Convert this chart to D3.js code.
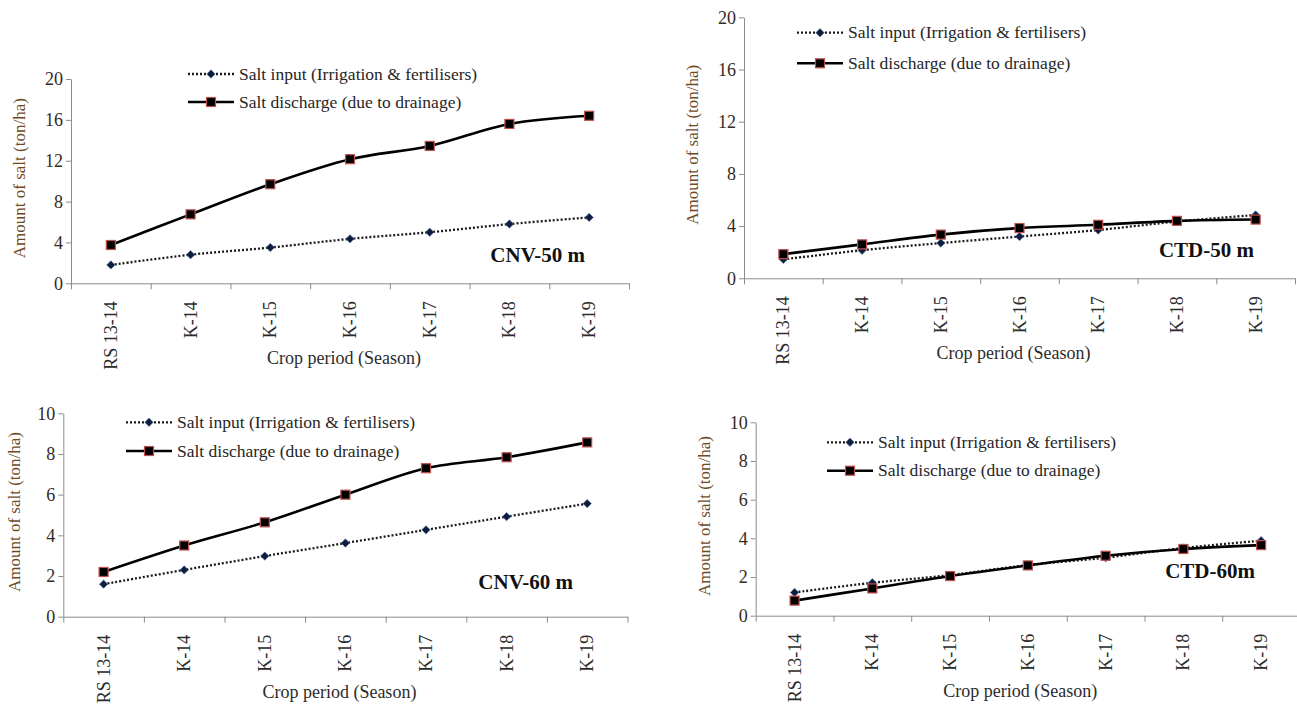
<!DOCTYPE html>
<html>
<head>
<meta charset="utf-8">
<script src="https://cdn.jsdelivr.net/npm/d3@7"></script>
<style>
  body { margin: 0; background: #fff; }
</style>
</head>
<body>
<script>
let width = 1297;
let height = 709;

// data
let categories = ["RS 13-14", "K-14", "K-15", "K-16", "K-17", "K-18", "K-19"];
let seriesNames = ["Salt input (Irrigation & fertilisers)", "Salt discharge (due to drainage)"];

let cnv50Input = [1.8, 2.8, 3.5, 4.35, 5.0, 5.8, 6.45];
let cnv50Discharge = [3.75, 6.75, 9.7, 12.15, 13.45, 15.6, 16.4];

let ctd50Input = [1.45, 2.15, 2.7, 3.2, 3.7, 4.35, 4.85];
let ctd50Discharge = [1.85, 2.6, 3.35, 3.85, 4.1, 4.4, 4.5];

let cnv60Input = [1.6, 2.3, 2.98, 3.62, 4.27, 4.92, 5.56];
let cnv60Discharge = [2.2, 3.5, 4.64, 6.0, 7.3, 7.84, 8.57];

let ctd60Input = [1.2, 1.7, 2.1, 2.62, 3.0, 3.5, 3.88];
let ctd60Discharge = [0.78, 1.41, 2.05, 2.6, 3.1, 3.45, 3.65];

let yTitle = "Amount of salt (ton/ha)";
let xTitle = "Crop period (Season)";

let serif = "'Liberation Serif', 'Times New Roman', 'DejaVu Serif', serif";
let tickColor = "#33291f";
let yTitleColor = "#6e4a1e";
let axisColor = "#8c8c8c";
let squareStroke = "#c0504d";
let diamondFill = "#0f1d3d";
let fontSize = 18;

let svg = d3
  .select("body")
  .append("svg")
  .attr("width", width)
  .attr("height", height)
  .style("font-family", serif);

let panels = [
  { input: cnv50Input, discharge: cnv50Discharge, label: "CNV-50 m", yMax: 20, step: 4,
    left: 71, right: 629, top: 79, bottom: 283.3, legendX: 188, legendY: [74, 102], labelX: 585, labelY: 262 },
  { input: ctd50Input, discharge: ctd50Discharge, label: "CTD-50 m", yMax: 20, step: 4,
    left: 744, right: 1295, top: 17.3, bottom: 278.3, legendX: 797, legendY: [32.7, 63.3], labelX: 1254, labelY: 257 },
  { input: cnv60Input, discharge: cnv60Discharge, label: "CNV-60 m", yMax: 10, step: 2,
    left: 63.3, right: 627.5, top: 413.3, bottom: 616.7, legendX: 126, legendY: [422.3, 451], labelX: 573, labelY: 589 },
  { input: ctd60Input, discharge: ctd60Discharge, label: "CTD-60m", yMax: 10, step: 2,
    left: 755.7, right: 1300, top: 422.3, bottom: 615.7, legendX: 827, legendY: [442.3, 470.7], labelX: 1255, labelY: 578 }
];

function setFont(sel, size) {
  return sel
    .attr("font-family", serif)
    .style("font-family", serif)
    .style("font-size", size + "px");
}

function drawSquare(g, x, y) {
  g.append("rect")
    .attr("x", x - 4.5)
    .attr("y", y - 4.5)
    .attr("width", 9)
    .attr("height", 9)
    .attr("fill", "#000")
    .attr("stroke", squareStroke)
    .attr("stroke-width", 1.2);
}

function drawDiamond(g, x, y) {
  let r = 4.2;
  g.append("path")
    .attr("d", "M" + x + "," + (y - r) + "L" + (x + r) + "," + y + "L" + x + "," + (y + r) + "L" + (x - r) + "," + y + "Z")
    .attr("fill", diamondFill)
    .attr("stroke", "#4f6fa8")
    .attr("stroke-width", 0.6);
}

function drawPanel(p) {
  let g = svg.append("g");

  let x = d3.scaleBand().domain(categories).range([p.left, p.right]);
  let xEdges = d3.scaleLinear().domain([0, categories.length]).range([p.left, p.right]);
  let y = d3.scaleLinear().domain([0, p.yMax]).range([p.bottom, p.top]);
  let cx = function(d, i) { return x(categories[i]) + x.bandwidth() / 2; };

  // y axis
  let yAxis = g.append("g")
    .attr("transform", "translate(" + p.left + ",0)")
    .call(d3.axisLeft(y)
      .tickValues(d3.range(0, p.yMax + p.step, p.step))
      .tickSize(5)
      .tickSizeOuter(0)
      .tickPadding(3));
  yAxis.attr("font-family", serif);
  yAxis.selectAll("line, path").attr("stroke", axisColor);
  setFont(yAxis.selectAll("text").attr("fill", tickColor), fontSize);

  // x axis with ticks between categories
  let xAxis = g.append("g")
    .attr("transform", "translate(0," + p.bottom + ")")
    .call(d3.axisBottom(xEdges)
      .tickValues(d3.range(0, categories.length + 1))
      .tickFormat("")
      .tickSize(6)
      .tickSizeOuter(0));
  xAxis.selectAll("line, path").attr("stroke", axisColor);

  setFont(g.selectAll(".xlabel")
    .data(categories)
    .enter()
    .append("text")
    .attr("transform", function(d) {
      return "translate(" + (x(d) + x.bandwidth() / 2 + 6) + "," + (p.bottom + 18) + ") rotate(-90)";
    })
    .attr("text-anchor", "end")
    .attr("fill", "#2b2b2b")
    .text(function(d) { return d; }), fontSize);

  // titles
  let titleX = Math.max(p.left - 51, 15);
  setFont(g.append("text")
    .attr("transform", "translate(" + titleX + "," + ((p.top + p.bottom) / 2 - 3) + ") rotate(-90)")
    .attr("text-anchor", "middle")
    .attr("dy", "0.3em")
    .attr("fill", yTitleColor)
    .text(yTitle), 17);

  setFont(g.append("text")
    .attr("x", (p.left + Math.min(p.right, width)) / 2 - 6)
    .attr("y", p.bottom + 81)
    .attr("text-anchor", "middle")
    .attr("fill", "#2b2b2b")
    .text(xTitle), fontSize);

  // lines
  let line = d3.line()
    .x(cx)
    .y(function(d) { return y(d); })
    .curve(d3.curveCatmullRom.alpha(0.5));

  g.append("path")
    .datum(p.input)
    .attr("d", line)
    .attr("fill", "none")
    .attr("stroke", "#1a1a1a")
    .attr("stroke-width", 2.3)
    .attr("stroke-dasharray", "2,2");

  g.append("path")
    .datum(p.discharge)
    .attr("d", line)
    .attr("fill", "none")
    .attr("stroke", "#000")
    .attr("stroke-width", 2.6);

  p.input.forEach(function(v, i) { drawDiamond(g, cx(v, i), y(v)); });
  p.discharge.forEach(function(v, i) { drawSquare(g, cx(v, i), y(v)); });

  // legend
  let lx = p.legendX;
  let sampleLen = 46;
  g.append("line")
    .attr("x1", lx).attr("x2", lx + sampleLen)
    .attr("y1", p.legendY[0]).attr("y2", p.legendY[0])
    .attr("stroke", "#1a1a1a")
    .attr("stroke-width", 2.3)
    .attr("stroke-dasharray", "2,2");
  drawDiamond(g, lx + sampleLen / 2, p.legendY[0]);
  g.append("line")
    .attr("x1", lx).attr("x2", lx + sampleLen)
    .attr("y1", p.legendY[1]).attr("y2", p.legendY[1])
    .attr("stroke", "#000")
    .attr("stroke-width", 2.6);
  drawSquare(g, lx + sampleLen / 2, p.legendY[1]);

  seriesNames.forEach(function(name, i) {
    setFont(g.append("text")
      .attr("x", lx + sampleLen + 5)
      .attr("y", p.legendY[i])
      .attr("dy", "0.33em")
      .attr("fill", "#262626")
      .text(name), 17.5);
  });

  // panel label
  setFont(g.append("text")
    .attr("x", p.labelX)
    .attr("y", p.labelY)
    .attr("text-anchor", "end")
    .attr("font-weight", "bold")
    .attr("fill", "#111")
    .text(p.label), 21);
}

panels.forEach(drawPanel);
</script>
</body>
</html>
